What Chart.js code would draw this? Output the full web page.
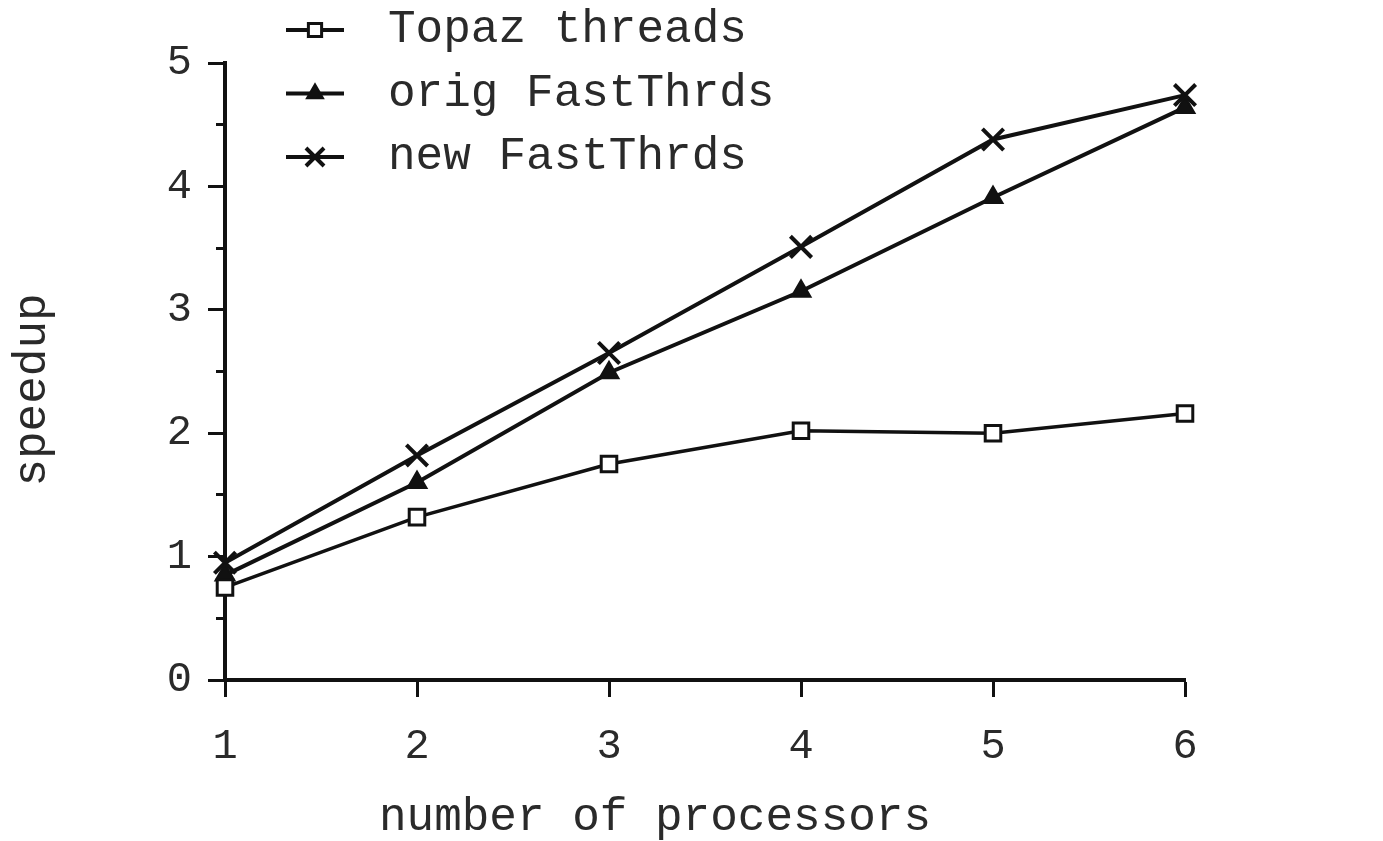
<!DOCTYPE html>
<html>
<head>
<meta charset="utf-8">
<script src="https://cdn.jsdelivr.net/npm/chart.js@4.4.0/dist/chart.umd.min.js"></script>
<style>
html, body { margin: 0; padding: 0; background: #fff; }
#wrap { width: 1383px; height: 841px; }
</style>
</head>
<body>
<div id="wrap"><canvas id="speedupChart"></canvas></div>
<script>
// データ
const processors = [1, 2, 3, 4, 5, 6];
const topazThreads = [0.75, 1.32, 1.75, 2.02, 2.00, 2.16];
const origFastThrds = [0.85, 1.60, 2.49, 3.15, 3.91, 4.64];
const newFastThrds = [0.95, 1.82, 2.65, 3.51, 4.38, 4.74];
const seriesLabels = ['Topaz threads', 'orig FastThrds', 'new FastThrds'];
const yTickLabels = [0, 1, 2, 3, 4, 5];
const xTitle = 'number of processors';
const yTitle = 'speedup';

const ink = '#111';
const textInk = '#2a2a2a';
const monoFont = "'Courier New', 'Liberation Mono', monospace";

function toPoints(values) {
    return processors.map((p, i) => ({ x: p, y: values[i] }));
}

// 凡例（線＋マーカー）と軸タイトルを描く
const paperDecor = {
    id: 'paperDecor',
    afterDraw(chart) {
        const ctx = chart.ctx;
        ctx.save();
        chart.data.datasets.forEach((ds, i) => {
            const y = 30 + i * 63.5;
            ctx.strokeStyle = ink;
            ctx.lineWidth = 4;
            ctx.beginPath();
            ctx.moveTo(286, y);
            ctx.lineTo(344, y);
            ctx.stroke();
            ctx.fillStyle = ds.pointBackgroundColor;
            ctx.strokeStyle = ink;
            ctx.lineWidth = ds.pointBorderWidth;
            Chart.helpers.drawPoint(ctx, {
                pointStyle: ds.pointStyle,
                radius: ds.pointRadius * 0.85,
                rotation: 0,
                borderWidth: ds.pointBorderWidth
            }, 315, y);
            ctx.fillStyle = textInk;
            ctx.font = '46px ' + monoFont;
            ctx.textBaseline = 'middle';
            ctx.textAlign = 'left';
            ctx.fillText(ds.label, 388, y);
        });

        // 軸タイトル
        ctx.fillStyle = textInk;
        ctx.font = '46px ' + monoFont;
        ctx.textAlign = 'center';
        ctx.textBaseline = 'middle';
        ctx.fillText(xTitle, 655, 818);
        ctx.translate(33, 390);
        ctx.rotate(-Math.PI / 2);
        ctx.fillText(yTitle, 0, 0);
        ctx.restore();
    }
};

const ctx = document.getElementById('speedupChart').getContext('2d');
new Chart(ctx, {
    type: 'line',
    data: {
        datasets: [{
            label: seriesLabels[0],
            data: toPoints(topazThreads),
            borderColor: ink,
            borderWidth: 3.5,
            pointStyle: 'rect',
            pointRadius: 11,
            pointBorderWidth: 3,
            pointBackgroundColor: '#fff',
            pointBorderColor: ink,
            clip: false
        }, {
            label: seriesLabels[1],
            data: toPoints(origFastThrds),
            borderColor: ink,
            borderWidth: 4,
            pointStyle: 'triangle',
            pointRadius: 11,
            pointBorderWidth: 2,
            pointBackgroundColor: ink,
            pointBorderColor: ink,
            clip: false
        }, {
            label: seriesLabels[2],
            data: toPoints(newFastThrds),
            borderColor: ink,
            borderWidth: 4,
            pointStyle: 'crossRot',
            pointRadius: 15,
            pointBorderWidth: 4,
            pointBackgroundColor: ink,
            pointBorderColor: ink,
            clip: false
        }]
    },
    options: {
        responsive: true,
        maintainAspectRatio: false,
        animation: false,
        layout: { padding: { left: 0, top: 63, right: 198, bottom: 0 } },
        plugins: {
            legend: { display: false },
            tooltip: { enabled: false }
        },
        scales: {
            x: {
                type: 'linear',
                min: 1,
                max: 6,
                afterFit(scale) { scale.height = 161; },
                ticks: {
                    stepSize: 1,
                    color: textInk,
                    padding: 25,
                    font: { family: monoFont, size: 42 }
                },
                grid: {
                    drawOnChartArea: false,
                    tickLength: 17,
                    tickWidth: 3,
                    tickColor: ink
                },
                border: { color: ink, width: 4 }
            },
            y: {
                type: 'linear',
                position: 'left',
                weight: 1,
                min: 0,
                max: 5,
                afterFit(scale) { scale.width = 225; },
                afterBuildTicks(scale) {
                    scale.ticks = yTickLabels.map(v => ({ value: v }));
                },
                ticks: {
                    color: textInk,
                    padding: 16,
                    font: { family: monoFont, size: 42 }
                },
                grid: {
                    drawOnChartArea: false,
                    tickLength: 17,
                    tickWidth: 3,
                    tickColor: ink
                },
                border: { color: ink, width: 4 }
            },
            yMinor: {
                type: 'linear',
                position: 'left',
                weight: 0,
                min: 0,
                max: 5,
                afterFit(scale) { scale.width = 0; },
                ticks: { stepSize: 0.5, display: false },
                grid: {
                    drawOnChartArea: false,
                    tickLength: 9,
                    tickWidth: 3,
                    tickColor: ink
                },
                border: { display: false }
            }
        }
    },
    plugins: [paperDecor]
});
</script>
</body>
</html>
